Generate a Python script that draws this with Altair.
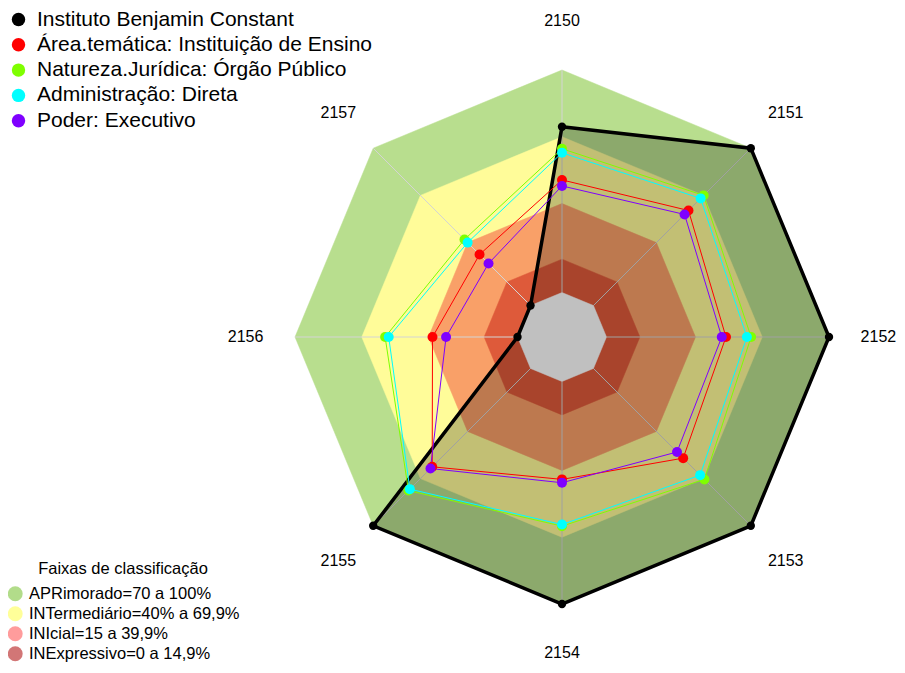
import altair as alt
import pandas as pd

# ---------------- data ----------------
axis_labels = ["2150", "2151", "2152", "2153", "2154", "2155", "2156", "2157"]
series_names = [
    "Instituto Benjamin Constant",
    "Área.temática: Instituição de Ensino",
    "Natureza.Jurídica: Órgão Público",
    "Administração: Direta",
    "Poder: Executivo",
]
ibc_values = [74.5, 100, 100, 100, 100, 100, 0, 0]
area_values = [50.6, 60.4, 53.7, 57.0, 44.0, 62.5, 38.2, 32.4]
natureza_values = [64.6, 70.0, 65.0, 70.5, 65.0, 77.6, 59.5, 42.0]
admin_values = [62.8, 68.1, 63.1, 67.8, 64.3, 76.7, 57.9, 40.0]
poder_values = [47.9, 57.9, 51.8, 53.1, 45.5, 63.6, 32.1, 26.7]
band_names = [
    "APRimorado=70 a 100%",
    "INTermediário=40% a 69,9%",
    "INIcial=15 a 39,9%",
    "INExpressivo=0 a 14,9%",
]
band_upper = [100, 70, 40, 15]

# ---------------- styles ----------------
series_colors = ["#000000", "#ff0000", "#7fff00", "#00ffff", "#7f00ff"]
band_fill = ["#b8de8e", "#fffc99", "#f9a068", "#de5a3a"]
band_legend_colors = ["#b2dc8a", "#ffff99", "#ff9c9c", "#d27676"]
FONT = "Liberation Sans"

R_PX = 267.0
W, H = 889, 654
CX, CY = 554.0, 329.0
LABEL_R = 1.185
xs = alt.Scale(domain=[-CX / R_PX, (W - CX) / R_PX], nice=False, zero=False)
ys = alt.Scale(domain=[-(H - CY) / R_PX, CY / R_PX], nice=False, zero=False)

# ---------------- tables ----------------
series_vals = [ibc_values, area_values, natureza_values, admin_values, poder_values]
srows = []
for s, vals in zip(series_names, series_vals):
    for i, v in enumerate(vals):
        srows.append({"series": s, "i": i, "v": v})
sdf = pd.DataFrame(srows)

brows = []
for b, up in zip(band_names, band_upper):
    for i in range(len(axis_labels)):
        brows.append({"band": b, "i": i, "v": up})
bdf = pd.DataFrame(brows)

adf = pd.DataFrame({"label": axis_labels, "i": list(range(len(axis_labels)))})
legdf = pd.DataFrame({"band": band_names})

X = alt.X("px:Q", scale=xs, axis=None)
Y = alt.Y("py:Q", scale=ys, axis=None)


def polar(ch):
    return ch.transform_calculate(
        r="1/6 + 5/6*datum.v/100"
    ).transform_calculate(
        px="datum.r*sin(datum.i*PI/4)", py="datum.r*cos(datum.i*PI/4)"
    )


layers = []

# bands (outer to inner)
for name, col in zip(band_names, band_fill):
    layers.append(
        polar(alt.Chart(bdf).transform_filter(alt.datum.band == name))
        .mark_line(interpolate="linear-closed", fill=col, stroke=col, strokeWidth=0.5)
        .encode(x=X, y=Y, order="i:Q")
    )

# spokes
layers.append(
    alt.Chart(adf)
    .transform_calculate(
        px="(1/6)*sin(datum.i*PI/4)",
        py="(1/6)*cos(datum.i*PI/4)",
        px2="sin(datum.i*PI/4)",
        py2="cos(datum.i*PI/4)",
    )
    .mark_rule(color="#d4d4d4", strokeWidth=1)
    .encode(x=X, y=Y, x2="px2:Q", y2="py2:Q")
)

ibc_name = series_names[0]
ibc_base = polar(alt.Chart(sdf).transform_filter(alt.datum.series == ibc_name))

# IBC translucent fill
layers.append(
    ibc_base.mark_line(
        interpolate="linear-closed", fill="black", fillOpacity=0.24,
        stroke="black", strokeOpacity=0
    ).encode(x=X, y=Y, order="i:Q")
)

# centre hole
layers.append(
    alt.Chart(adf)
    .transform_calculate(
        px="(1/6)*sin(datum.i*PI/4)", py="(1/6)*cos(datum.i*PI/4)"
    )
    .mark_line(interpolate="linear-closed", fill="#c0c0c0", stroke="#c0c0c0", strokeWidth=0.5)
    .encode(x=X, y=Y, order="i:Q")
)

# IBC outline
layers.append(
    ibc_base.mark_line(interpolate="linear-closed", color="black", strokeWidth=3.5)
    .encode(x=X, y=Y, order="i:Q")
)

# other series outlines (own scale, no legend)
layers.append(
    polar(alt.Chart(sdf).transform_filter(alt.datum.series != ibc_name))
    .transform_calculate(sname="datum.series")
    .mark_line(interpolate="linear-closed", strokeWidth=1)
    .encode(
        x=X, y=Y, order="i:Q",
        stroke=alt.Stroke(
            "sname:N",
            scale=alt.Scale(domain=series_names[1:], range=series_colors[1:]),
            legend=None,
        ),
    )
)

# points + series legend
layers.append(
    polar(alt.Chart(sdf))
    .mark_circle(opacity=1)
    .encode(
        x=X, y=Y,
        color=alt.Color(
            "series:N",
            scale=alt.Scale(domain=series_names, range=series_colors),
            sort=series_names,
            legend=alt.Legend(
                orient="none", legendX=0, legendY=1, title=None,
                labelFontSize=21, labelFont=FONT, labelColor="black", labelLimit=600,
                symbolType="circle", symbolSize=180, symbolStrokeWidth=0, symbolOpacity=1,
                rowPadding=3.3, labelOffset=8, padding=0,
            ),
        ),
        size=alt.condition(alt.datum.series == ibc_name, alt.value(70), alt.value(100)),
    )
)

# axis labels
layers.append(
    alt.Chart(adf)
    .transform_calculate(
        px=f"{LABEL_R}*sin(datum.i*PI/4)", py=f"{LABEL_R}*cos(datum.i*PI/4)"
    )
    .mark_text(font=FONT, fontSize=16, color="black", align="center", baseline="middle")
    .encode(x=X, y=Y, text="label:N")
)

# band legend (invisible carrier)
layers.append(
    alt.Chart(legdf)
    .mark_circle(opacity=0)
    .encode(
        fill=alt.Fill(
            "band:N",
            scale=alt.Scale(domain=band_names, range=band_legend_colors),
            sort=band_names,
            legend=alt.Legend(
                orient="none", legendX=-1, legendY=553,
                title="Faixas de classificação", titleFont=FONT, titleFontSize=16.5,
                titleFontWeight="normal", titleColor="black", titleAnchor="middle",
                titlePadding=8,
                labelFontSize=16.5, labelFont=FONT, labelColor="black", labelLimit=600,
                symbolType="circle", symbolSize=220, symbolStrokeWidth=0, symbolOpacity=1,
                rowPadding=3, labelOffset=5.5, padding=0,
            ),
        )
    )
)

chart = (
    alt.layer(*layers)
    .properties(width=W, height=H, autosize=alt.AutoSizeParams(type="none"), padding=0)
    .configure(font=FONT)
    .configure_view(stroke="transparent", strokeWidth=0)
)

chart.save("out.html", embed_options={"renderer": "svg", "actions": False})
